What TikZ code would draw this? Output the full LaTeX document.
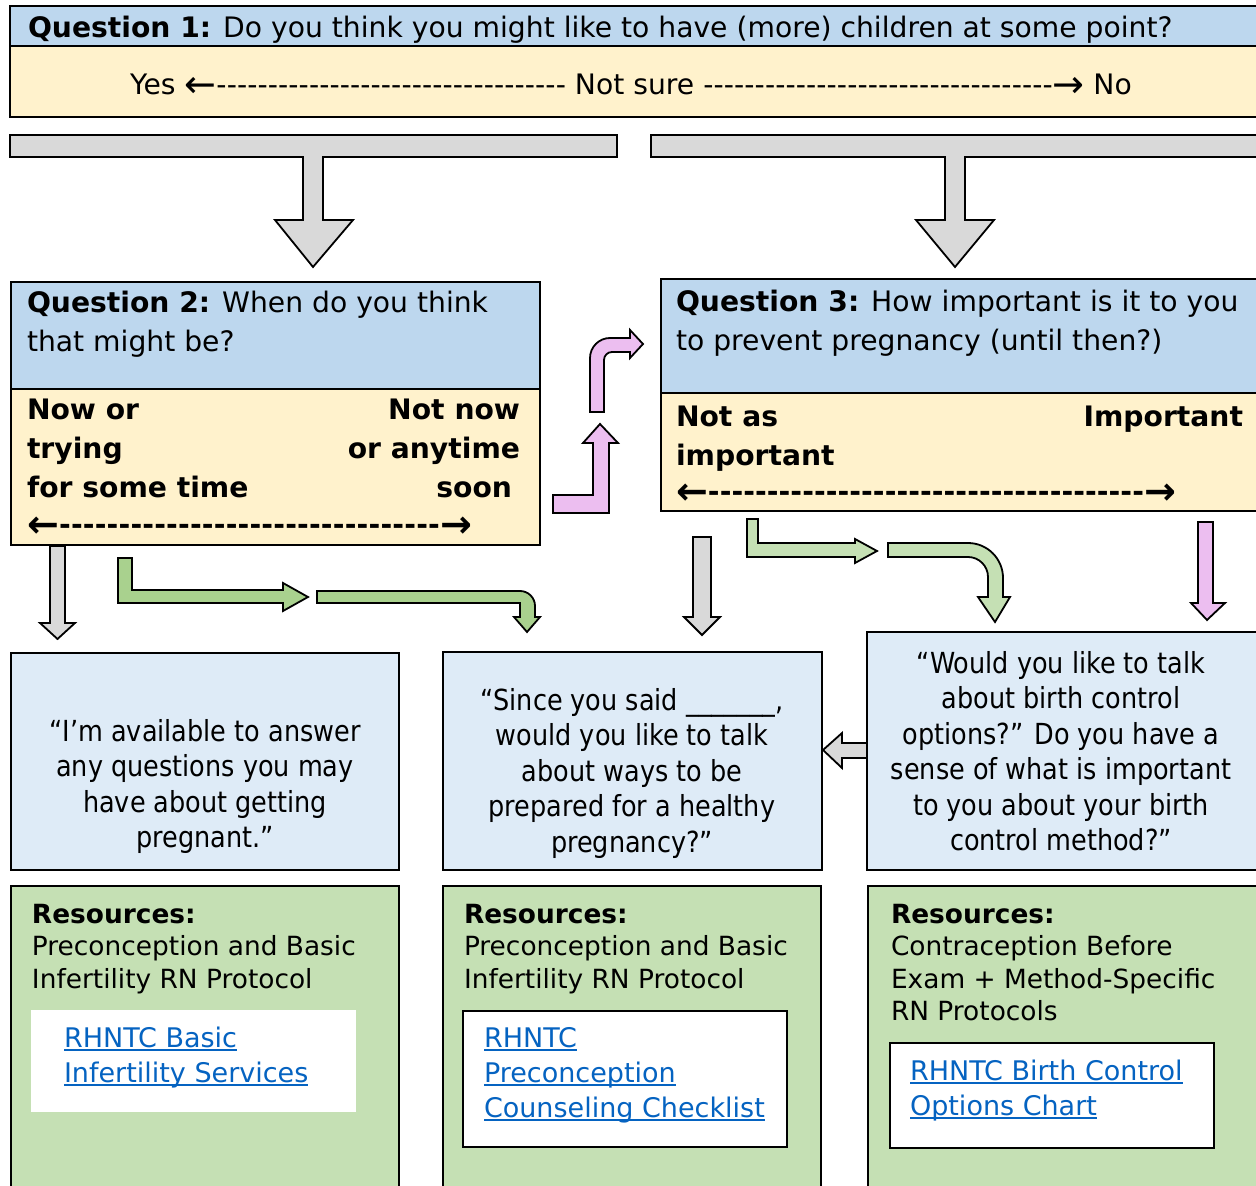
\documentclass[tikz,border=0pt]{standalone}
\usepackage{fontspec}
\usepackage{graphicx}
\setmainfont{DejaVu Sans}[FakeStretch=0.88]
\newfontfamily\wideface{DejaVu Sans}
\definecolor{qblue}{RGB}{189,215,238}
\definecolor{qyellow}{RGB}{255,242,204}
\definecolor{sayblue}{RGB}{222,235,247}
\definecolor{resgreen}{RGB}{197,224,180}
\definecolor{arrgreen}{RGB}{169,209,142}
\definecolor{arrgray}{RGB}{217,217,217}
\definecolor{arrpink}{RGB}{236,190,240}
\definecolor{linkblue}{RGB}{5,99,193}
\newlength\pxu
\setlength\pxu{0.5pt}
\newcommand\bigfont{\wideface\fontsize{14.1}{19.5}\selectfont}
\newcommand\sayfont{\fontsize{14.5}{17.75}\selectfont}
\newcommand\resfont{\wideface\fontsize{13.2}{16.25}\selectfont}
\newcommand\linkfont{\wideface\fontsize{13.5}{17.5}\selectfont}
\newcommand\lnk[1]{\textcolor{linkblue}{\setbox0\hbox{#1}\rlap{\rule[-3.5\pxu]{\wd0}{1.6\pxu}}\box0}}
\newcommand\larr{\raisebox{-0.1em}{\scalebox{1.35}{←}}}
\newcommand\rarr{\raisebox{-0.1em}{\scalebox{1.35}{→}}}
\newcommand\dashline[1]{\hbox to #1{\larr\xleaders\hbox{-}\hfill\rarr}}
\tikzset{
	every node/.style={inner sep=0pt, outer sep=0pt},
	frame/.style={draw=black, line width=1pt},
	blockarrow/.style={draw=black, line width=0.9pt, line join=miter},
	lbl/.style={anchor=base west, align=left},
	rlbl/.style={anchor=base east, align=right},
	say/.style={anchor=base, align=center, font=\sayfont},
	res/.style={anchor=base west, align=left, font=\resfont},
	links/.style={anchor=base west, align=left, font=\linkfont}}

\begin{document}
\begin{tikzpicture}[x=0.5pt, y=-0.5pt]
	\useasboundingbox (0,0) rectangle (1256,1186);

	% question 1 (multi-line nodes sit on their last line)
	\filldraw[frame, fill=qblue] (10,6) rectangle (1262,46);
	\filldraw[frame, fill=qyellow] (10,46) rectangle (1262,117);
	\node[lbl, font=\bigfont] (q1) at (28,38) {\textbf{Question 1:} Do you think you might like to have (more) children at some point?};
	\node[lbl, font=\bigfont] (q1scale) at (130,95) {Yes \hbox to 900\pxu{\larr\xleaders\hbox{-}\hfill\ Not sure \xleaders\hbox{-}\hfill\rarr} No};

	% split bars
	\filldraw[blockarrow, fill=arrgray] (10,135) -- (617,135) -- (617,157) -- (323,157) -- (323,220) -- (353,220)
		-- (313,267) -- (275,220) -- (303,220) -- (303,157) -- (10,157) -- cycle;
	\filldraw[blockarrow, fill=arrgray] (651,135) -- (1262,135) -- (1262,157) -- (965,157) -- (965,220) -- (994,220)
		-- (955,267) -- (916,220) -- (945,220) -- (945,157) -- (651,157) -- cycle;

	% question 2
	\filldraw[frame, fill=qblue] (11,282) rectangle (540,389);
	\filldraw[frame, fill=qyellow] (11,389) rectangle (540,545);
	\node[lbl, font=\bigfont] (q2) at (27,352) {\textbf{Question 2:} When do you think\\that might be?};
	\node[lbl, font=\bigfont\bfseries] (q2now) at (27,498) {Now or\\trying\\for some time};
	\node[rlbl, font=\bigfont\bfseries] (q2later) at (520,498) {Not now\\or anytime\\soon\hspace*{8\pxu}};
	\node[lbl, font=\bigfont\bfseries] (q2scale) at (27,535) {\dashline{445\pxu}};

	% question 3
	\filldraw[frame, fill=qblue] (661,279) rectangle (1262,393);
	\filldraw[frame, fill=qyellow] (661,393) rectangle (1262,511);
	\node[lbl, font=\bigfont] (q3) at (676,351) {\textbf{Question 3:} How important is it to you\\to prevent pregnancy (until then?)};
	\node[lbl, font=\bigfont\bfseries] (q3low) at (676,466) {Not as\\important};
	\node[rlbl, font=\bigfont\bfseries] (q3high) at (1243,427) {Important};
	\node[lbl, font=\bigfont\bfseries] (q3scale) at (676,502) {\dashline{500\pxu}};

	% pink arrows from question 2 to question 3
	\filldraw[blockarrow, fill=arrpink] (553,495) -- (593,495) -- (593,443) -- (583,443) -- (600,424) -- (618,443)
		-- (609,443) -- (609,513) -- (553,513) -- cycle;
	\filldraw[blockarrow, fill=arrpink] (590,412) -- (590,358) .. controls (590,347) and (599,338) .. (610,338)
		-- (630,338) -- (630,330) -- (643,344) -- (630,358) -- (630,352) -- (612,352)
		.. controls (607.6,352) and (604,355.6) .. (604,360) -- (604,412) -- cycle;

	% arrows under question 2
	\filldraw[blockarrow, fill=arrgray] (50,546) -- (65,546) -- (65,623) -- (75,623) -- (57.5,639) -- (40,623) -- (50,623) -- cycle;
	\filldraw[blockarrow, fill=arrgreen] (118,558) -- (132,558) -- (132,590) -- (283,590) -- (283,583) -- (308,597)
		-- (283,611) -- (283,603) -- (118,603) -- cycle;
	\filldraw[blockarrow, fill=arrgreen] (317,591) -- (520,591) .. controls (528.3,591) and (535,597.7) .. (535,606)
		-- (535,617) -- (540,617) -- (527,632) -- (514,617) -- (520,617) -- (520,603) -- (317,603) -- cycle;

	% arrows under question 3
	\filldraw[blockarrow, fill=arrgray] (693,537) -- (711,537) -- (711,617) -- (720,617) -- (702,635) -- (684,617) -- (693,617) -- cycle;
	\filldraw[blockarrow, fill=resgreen] (747,519) -- (758,519) -- (758,543) -- (855,543) -- (855,539) -- (877,551)
		-- (855,563) -- (855,557) -- (747,557) -- cycle;
	\filldraw[blockarrow, fill=resgreen] (888,543) -- (968,543) .. controls (987.3,543) and (1003,558.7) .. (1003,578)
		-- (1003,597) -- (1010,597) -- (995,622) -- (978,597) -- (988,597) -- (988,577)
		.. controls (988,566) and (979,557) .. (968,557) -- (888,557) -- cycle;
	\filldraw[blockarrow, fill=arrpink] (1198,522) -- (1213,522) -- (1213,603) -- (1225,603) -- (1207,620) -- (1191,603) -- (1198,603) -- cycle;

	% what to say
	\filldraw[frame, fill=sayblue] (11,653) rectangle (399,870);
	\filldraw[frame, fill=sayblue] (443,652) rectangle (822,870);
	\filldraw[frame, fill=sayblue] (867,632) rectangle (1262,870);
	\node[say] (sayA) at (205,847.5) {“I’m available to answer\\any questions you may\\have about getting\\pregnant.”};
	\node[say] (sayB) at (632,852) {“Since you said \_\_\_\_\_\_\_,\\would you like to talk\\about ways to be\\prepared for a healthy\\pregnancy?”};
	\node[say] (sayC) at (1061,850.5) {“Would you like to talk\\about birth control\\options?” Do you have a\\sense of what is important\\to you about your birth\\control method?”};
	\filldraw[blockarrow, fill=arrgray] (867,743) -- (842,743) -- (842,733) -- (823,750) -- (842,768) -- (842,758) -- (867,758) -- cycle;

	% resources
	\filldraw[frame, fill=resgreen] (11,886) rectangle (399,1195);
	\filldraw[frame, fill=resgreen] (443,886) rectangle (821,1195);
	\filldraw[frame, fill=resgreen] (868,886) rectangle (1262,1195);
	\node[res] (resA) at (32,988) {\textbf{Resources:}\\Preconception and Basic\\Infertility RN Protocol};
	\node[res] (resB) at (464,988) {\textbf{Resources:}\\Preconception and Basic\\Infertility RN Protocol};
	\node[res] (resC) at (891,1020.5) {\textbf{Resources:}\\Contraception Before\\Exam + Method-Specific\\RN Protocols};
	\fill[white] (31,1010) rectangle (356,1112);
	\filldraw[frame, fill=white] (463,1011) rectangle (787,1147);
	\filldraw[frame, fill=white] (890,1043) rectangle (1214,1148);
	\node[links] (linkA) at (64,1082) {\lnk{RHNTC Basic}\\\lnk{Infertility Services}};
	\node[links] (linkB) at (484,1117) {\lnk{RHNTC}\\\lnk{Preconception}\\\lnk{Counseling Checklist}};
	\node[links] (linkC) at (910,1115) {\lnk{RHNTC Birth Control}\\\lnk{Options Chart}};

\end{tikzpicture}
\end{document}
